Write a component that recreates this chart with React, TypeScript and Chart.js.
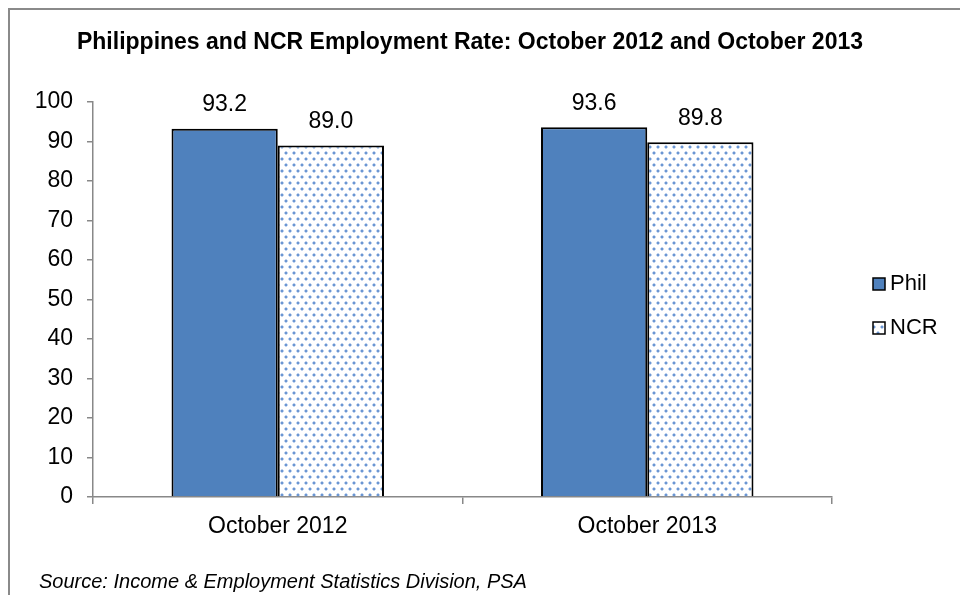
import React, { useEffect, useRef } from "react";
import { Chart, registerables } from "chart.js";

Chart.register(...registerables);

const FONT = '"Liberation Sans", Arial, sans-serif';

const titleText = "Philippines and NCR Employment Rate: October 2012 and October 2013";
const sourceText = "Source: Income & Employment Statistics Division, PSA";
const categories = ["October 2012", "October 2013"];
const seriesNames = ["Phil", "NCR"];
const philValues = [93.2, 93.6];
const ncrValues = [89.0, 89.8];
const yMin = 0;
const yMax = 100;
const yStep = 10;

function makeDotPattern(ctx: CanvasRenderingContext2D): CanvasPattern | string {
  const tile = document.createElement("canvas");
  tile.width = 8;
  tile.height = 12;
  const t = tile.getContext("2d");
  if (!t) return "#ffffff";
  t.fillStyle = "#ffffff";
  t.fillRect(0, 0, 8, 12);
  const dot = (x: number, y: number) => {
    t.fillStyle = "#c3d5ee";
    t.fillRect(x - 1, y, 4, 2);
    t.fillRect(x, y - 1, 2, 4);
    t.fillStyle = "#6b96d3";
    t.fillRect(x, y, 2, 2);
  };
  dot(1, 2);
  dot(5, 8);
  const p = ctx.createPattern(tile, "repeat");
  return p || "#ffffff";
}

const framePlugin = {
  id: "frame",
  beforeDraw(chart: any) {
    const ctx = chart.ctx;
    ctx.save();
    ctx.fillStyle = "#ffffff";
    ctx.fillRect(0, 0, chart.width, chart.height);
    ctx.strokeStyle = "#8a8a8a";
    ctx.lineWidth = 2;
    ctx.beginPath();
    ctx.moveTo(9, chart.height);
    ctx.lineTo(9, 9);
    ctx.lineTo(chart.width, 9);
    ctx.stroke();
    ctx.restore();
  },
  afterDraw(chart: any) {
    const ctx = chart.ctx;
    ctx.save();
    ctx.fillStyle = "#000000";
    ctx.textBaseline = "middle";
    ctx.font = `bold 23px ${FONT}`;
    ctx.textAlign = "center";
    ctx.fillText(titleText, 470, 43);
    ctx.font = `italic 20px ${FONT}`;
    ctx.textAlign = "left";
    ctx.fillText(sourceText, 39, 582);
    ctx.restore();
  },
};

const dataLabelPlugin = {
  id: "dataLabels",
  afterDatasetsDraw(chart: any) {
    const ctx = chart.ctx;
    chart.data.datasets.forEach((ds: any, i: number) => {
      const meta = chart.getDatasetMeta(i);
      meta.data.forEach((bar: any, j: number) => {
        ctx.save();
        ctx.font = `23px ${FONT}`;
        ctx.fillStyle = "#000000";
        ctx.textAlign = "center";
        ctx.textBaseline = "middle";
        ctx.fillText(Number(ds.data[j]).toFixed(1), bar.x, bar.y - 24);
        ctx.restore();
      });
    });
  },
};

const legendPlugin = {
  id: "customLegend",
  afterDraw(chart: any) {
    const ctx = chart.ctx;
    chart.data.datasets.forEach((ds: any, i: number) => {
      const cy = 284 + i * 44;
      ctx.save();
      ctx.fillStyle = ds.backgroundColor;
      ctx.fillRect(873, cy - 6, 12, 12);
      ctx.strokeStyle = "#000000";
      ctx.lineWidth = 1.5;
      ctx.strokeRect(873, cy - 6, 12, 12);
      ctx.font = `22px ${FONT}`;
      ctx.fillStyle = "#000000";
      ctx.textAlign = "left";
      ctx.textBaseline = "middle";
      ctx.fillText(ds.label, 890, cy);
      ctx.restore();
    });
  },
};

export default function App() {
  const canvasRef = useRef<HTMLCanvasElement | null>(null);

  useEffect(() => {
    const canvas = canvasRef.current;
    if (!canvas) return;
    const ctx = canvas.getContext("2d");
    if (!ctx) return;
    const pattern = makeDotPattern(ctx);

    const chart = new Chart(ctx, {
      type: "bar",
      data: {
        labels: categories,
        datasets: [
          {
            label: seriesNames[0],
            data: philValues,
            backgroundColor: "#4f81bd",
            borderColor: "#000000",
            borderWidth: 2,
            categoryPercentage: 0.575,
            barPercentage: 1,
          },
          {
            label: seriesNames[1],
            data: ncrValues,
            backgroundColor: pattern as any,
            borderColor: "#000000",
            borderWidth: 2,
            categoryPercentage: 0.575,
            barPercentage: 1,
          },
        ],
      },
      options: {
        animation: false,
        responsive: false,
        devicePixelRatio: 1,
        layout: { padding: { left: 0, right: 128, top: 102, bottom: 0 } },
        plugins: {
          legend: { display: false },
          tooltip: { enabled: false },
          title: { display: false },
        },
        scales: {
          x: {
            offset: true,
            grid: {
              display: true,
              offset: true,
              drawOnChartArea: false,
              drawTicks: true,
              tickLength: 7,
              color: "#888888",
              lineWidth: 1.5,
            },
            border: { color: "#888888", width: 1.5 },
            ticks: {
              color: "#000000",
              font: { family: FONT, size: 23 },
              padding: 9,
            },
            afterFit: (scale: any) => {
              scale.height = 98;
            },
          },
          y: {
            min: yMin,
            max: yMax,
            ticks: {
              stepSize: yStep,
              color: "#000000",
              font: { family: FONT, size: 23 },
              padding: 14,
            },
            grid: {
              display: true,
              drawOnChartArea: false,
              drawTicks: true,
              tickLength: 6,
              color: "#888888",
              lineWidth: 1.5,
            },
            border: { color: "#888888", width: 1.5 },
            afterFit: (scale: any) => {
              scale.width = 93;
            },
          },
        },
      },
      plugins: [framePlugin, dataLabelPlugin, legendPlugin],
    });

    return () => {
      chart.destroy();
    };
  }, []);

  return (
    <div style={{ position: "absolute", left: 0, top: 0, width: 960, height: 595 }}>
      <canvas ref={canvasRef} width={960} height={595} style={{ display: "block", width: 960, height: 595 }} />
    </div>
  );
}
